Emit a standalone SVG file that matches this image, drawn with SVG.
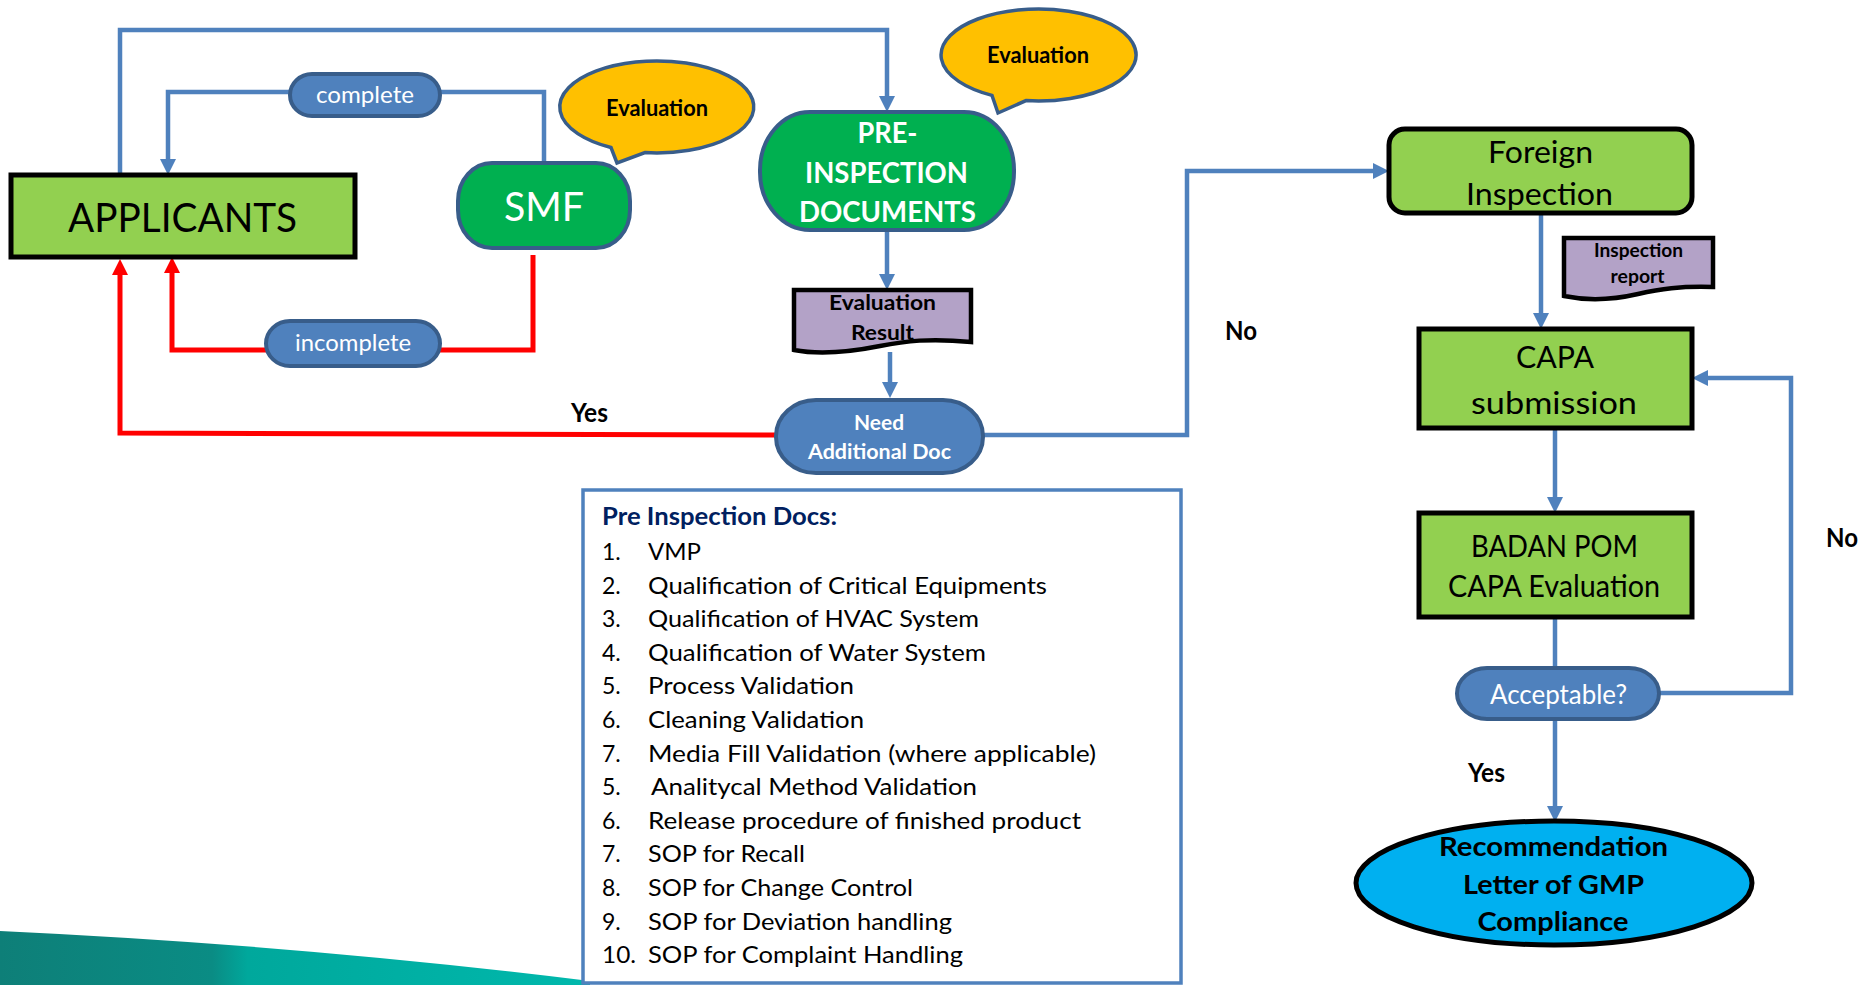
<svg xmlns="http://www.w3.org/2000/svg" width="1865" height="985" viewBox="0 0 1865 985">
<defs>
<style>
text{font-family:"Lato","Liberation Sans",sans-serif;}
.c{text-anchor:middle;}
.b{font-weight:bold;}
.w{fill:#FFFFFF;}
.k{fill:#000000;}
.blue{fill:none;stroke:#4F81BD;stroke-width:4.5;}
.red{fill:none;stroke:#FF0000;stroke-width:5;}
.pill{fill:#4F81BD;stroke:#385D8A;stroke-width:4;}
.green{fill:#00B050;stroke:#385D8A;stroke-width:4;}
.lgreen{fill:#92D050;stroke:#000000;stroke-width:5;}
.bubble{fill:#FFC000;stroke:#385D8A;stroke-width:3.5;}
.doc{fill:#B3A2C7;stroke:#000000;stroke-width:4.5;}
.li{font-size:23px;fill:#000000;}
</style>
<marker id="ab" markerUnits="userSpaceOnUse" markerWidth="16" markerHeight="16" refX="6" refY="8" orient="auto">
<path d="M0,0 L16,8 L0,16 Z" fill="#4F81BD"/>
</marker>
<marker id="ar" markerUnits="userSpaceOnUse" markerWidth="16" markerHeight="16" refX="6" refY="8" orient="auto">
<path d="M0,0 L16,8 L0,16 Z" fill="#FF0000"/>
</marker>
<linearGradient id="teal" x1="0" y1="0" x2="1" y2="0">
<stop offset="0" stop-color="#0E7F78"/>
<stop offset="0.36" stop-color="#0A8C84"/>
<stop offset="0.42" stop-color="#00A89C"/>
<stop offset="1" stop-color="#00B8AC"/>
</linearGradient>
</defs>
<rect x="0" y="0" width="1865" height="985" fill="#FFFFFF"/>
<path d="M0,931 Q300,945 590,981 V985 H0 Z" fill="url(#teal)"/>

<g id="connectors">
<path class="blue" d="M120,175 V30 H887 V102" marker-end="url(#ab)"/>
<path class="blue" d="M544,165 V92 H168 V165" marker-end="url(#ab)"/>
<path class="red" d="M533,255 V350 H172 V267" marker-end="url(#ar)"/>
<path class="red" d="M776,435 L120,433 V269" marker-end="url(#ar)"/>
<path class="blue" d="M887,232 V280" marker-end="url(#ab)"/>
<path class="blue" d="M890,352 V388" marker-end="url(#ab)"/>
<path class="blue" d="M983,435 H1187 V171 H1379" marker-end="url(#ab)"/>
<path class="blue" d="M1541,213 V319" marker-end="url(#ab)"/>
<path class="blue" d="M1555,428 V503" marker-end="url(#ab)"/>
<path class="blue" d="M1555,617 V668"/>
<path class="blue" d="M1659,693 H1791 V378 H1702" marker-end="url(#ab)"/>
<path class="blue" d="M1555,719 V812" marker-end="url(#ab)"/>
<text class="b k" x="571" y="422" font-size="26" textLength="37" lengthAdjust="spacingAndGlyphs">Yes</text>
<text class="b k" x="1225" y="340" font-size="26" textLength="32" lengthAdjust="spacingAndGlyphs">No</text>
<text class="b k" x="1826" y="547" font-size="26" textLength="32" lengthAdjust="spacingAndGlyphs">No</text>
<text class="b k" x="1468" y="782" font-size="26" textLength="37" lengthAdjust="spacingAndGlyphs">Yes</text>
</g>

<g id="complete">
<rect class="pill" x="290" y="74" width="150" height="42" rx="22" ry="21"/>
<text class="c w" x="365" y="103" font-size="24" textLength="98" lengthAdjust="spacingAndGlyphs">complete</text>
</g>

<g id="incomplete">
<rect class="pill" x="266" y="321" width="174" height="45" rx="24" ry="22.5"/>
<text class="c w" x="353" y="351" font-size="24" textLength="116" lengthAdjust="spacingAndGlyphs">incomplete</text>
</g>

<g id="applicants">
<rect class="lgreen" x="11" y="175" width="344" height="82"/>
<text class="c k" x="182.5" y="232" font-size="40" textLength="229" lengthAdjust="spacingAndGlyphs">APPLICANTS</text>
</g>

<g id="smf">
<rect class="green" x="458" y="163" width="172" height="85" rx="34" ry="38"/>
<text class="c w" x="544" y="221" font-size="40" textLength="80" lengthAdjust="spacingAndGlyphs">SMF</text>
</g>

<g id="evaluation-bubble-1">
<path class="bubble" d="M645,152.6 A97,46 0 1 0 611,147.5 L617,163 Z"/>
<text class="c b k" x="657" y="116" font-size="22" textLength="102" lengthAdjust="spacingAndGlyphs">Evaluation</text>
</g>

<g id="evaluation-bubble-2">
<path class="bubble" d="M1026,100.6 A97.5,46 0 1 0 992,95.4 L998,113 Z"/>
<text class="c b k" x="1038" y="63" font-size="22" textLength="102" lengthAdjust="spacingAndGlyphs">Evaluation</text>
</g>

<g id="pre-inspection">
<rect class="green" x="760" y="112" width="254" height="118" rx="50" ry="58"/>
<text class="c b w" x="887.5" y="143" font-size="28" textLength="60" lengthAdjust="spacingAndGlyphs">PRE-</text>
<text class="c b w" x="886.5" y="183" font-size="28" textLength="163" lengthAdjust="spacingAndGlyphs">INSPECTION</text>
<text class="c b w" x="887.5" y="222" font-size="28" textLength="177" lengthAdjust="spacingAndGlyphs">DOCUMENTS</text>
</g>

<g id="evaluation-result">
<path class="doc" d="M794,290 H971 V342 C930,338 905,341 880,346 C850,352 820,355 794,350 Z"/>
<text class="c b k" x="882.5" y="310" font-size="21" textLength="107" lengthAdjust="spacingAndGlyphs">Evaluation</text>
<text class="c b k" x="882.5" y="340" font-size="21" textLength="63" lengthAdjust="spacingAndGlyphs">Result</text>
</g>

<g id="need-additional-doc">
<rect class="pill" x="776" y="400" width="207" height="73" rx="40" ry="36"/>
<text class="c b w" x="879" y="430" font-size="21" textLength="50" lengthAdjust="spacingAndGlyphs">Need</text>
<text class="c b w" x="879.5" y="459" font-size="21" textLength="143" lengthAdjust="spacingAndGlyphs">Additional Doc</text>
</g>

<g id="pre-inspection-docs">
<rect x="583" y="490" width="598" height="493" fill="#FFFFFF" stroke="#4F81BD" stroke-width="3.5"/>
<text class="b" x="602" y="525" font-size="24" fill="#002060" textLength="235" lengthAdjust="spacingAndGlyphs">Pre Inspection Docs:</text>
<text class="li" x="602" y="560">1.</text><text class="li" x="648" y="560" textLength="53" lengthAdjust="spacingAndGlyphs">VMP</text>
<text class="li" x="602" y="593.6">2.</text><text class="li" x="648" y="593.6" textLength="399" lengthAdjust="spacingAndGlyphs">Qualification of Critical Equipments</text>
<text class="li" x="602" y="627.2">3.</text><text class="li" x="648" y="627.2" textLength="331" lengthAdjust="spacingAndGlyphs">Qualification of HVAC System</text>
<text class="li" x="602" y="660.8">4.</text><text class="li" x="648" y="660.8" textLength="338" lengthAdjust="spacingAndGlyphs">Qualification of Water System</text>
<text class="li" x="602" y="694.4">5.</text><text class="li" x="648" y="694.4" textLength="206" lengthAdjust="spacingAndGlyphs">Process Validation</text>
<text class="li" x="602" y="728">6.</text><text class="li" x="648" y="728" textLength="216" lengthAdjust="spacingAndGlyphs">Cleaning Validation</text>
<text class="li" x="602" y="761.6">7.</text><text class="li" x="648" y="761.6" textLength="448" lengthAdjust="spacingAndGlyphs">Media Fill Validation (where applicable)</text>
<text class="li" x="602" y="795.2">5.</text><text class="li" x="651" y="795.2" textLength="326" lengthAdjust="spacingAndGlyphs">Analitycal Method Validation</text>
<text class="li" x="602" y="828.8">6.</text><text class="li" x="648" y="828.8" textLength="433" lengthAdjust="spacingAndGlyphs">Release procedure of finished product</text>
<text class="li" x="602" y="862.4">7.</text><text class="li" x="648" y="862.4" textLength="157" lengthAdjust="spacingAndGlyphs">SOP for Recall</text>
<text class="li" x="602" y="896">8.</text><text class="li" x="648" y="896" textLength="265" lengthAdjust="spacingAndGlyphs">SOP for Change Control</text>
<text class="li" x="602" y="929.6">9.</text><text class="li" x="648" y="929.6" textLength="304" lengthAdjust="spacingAndGlyphs">SOP for Deviation handling</text>
<text class="li" x="602" y="963.2" textLength="34" lengthAdjust="spacingAndGlyphs">10.</text><text class="li" x="648" y="963.2" textLength="315" lengthAdjust="spacingAndGlyphs">SOP for Complaint Handling</text>
</g>

<g id="foreign-inspection">
<rect class="lgreen" x="1389" y="129" width="303" height="84" rx="16" ry="16"/>
<text class="c k" x="1540.5" y="163" font-size="30" textLength="105" lengthAdjust="spacingAndGlyphs">Foreign</text>
<text class="c k" x="1539.5" y="205" font-size="30" textLength="147" lengthAdjust="spacingAndGlyphs">Inspection</text>
</g>

<g id="inspection-report">
<path class="doc" d="M1564,238 H1713 V287 C1680,286 1660,289 1638,294 C1612,300 1588,301 1564,296 Z"/>
<text class="c b k" x="1638.5" y="257" font-size="19" textLength="89" lengthAdjust="spacingAndGlyphs">Inspection</text>
<text class="c b k" x="1637.6" y="282.7" font-size="19" textLength="54" lengthAdjust="spacingAndGlyphs">report</text>
</g>

<g id="capa-submission">
<rect class="lgreen" x="1419" y="329" width="273" height="99"/>
<text class="c k" x="1555" y="368" font-size="30" textLength="78" lengthAdjust="spacingAndGlyphs">CAPA</text>
<text class="c k" x="1554" y="414" font-size="30" textLength="166" lengthAdjust="spacingAndGlyphs">submission</text>
</g>

<g id="badan-pom">
<rect class="lgreen" x="1419" y="513" width="273" height="104"/>
<text class="c k" x="1554.5" y="557" font-size="30" textLength="167" lengthAdjust="spacingAndGlyphs">BADAN POM</text>
<text class="c k" x="1554" y="597" font-size="30" textLength="212" lengthAdjust="spacingAndGlyphs">CAPA Evaluation</text>
</g>

<g id="acceptable">
<rect class="pill" x="1457" y="668" width="202" height="51" rx="30" ry="25.5"/>
<text class="c w" x="1558.5" y="704" font-size="26" textLength="137" lengthAdjust="spacingAndGlyphs">Acceptable?</text>
</g>

<g id="recommendation">
<ellipse cx="1554" cy="883" rx="198" ry="62" fill="#00B0F0" stroke="#000000" stroke-width="5"/>
<text class="c b k" x="1553.5" y="856" font-size="27" textLength="229" lengthAdjust="spacingAndGlyphs">Recommendation</text>
<text class="c b k" x="1553.5" y="894" font-size="27" textLength="181" lengthAdjust="spacingAndGlyphs">Letter of GMP</text>
<text class="c b k" x="1553" y="931" font-size="27" textLength="151" lengthAdjust="spacingAndGlyphs">Compliance</text>
</g>
</svg>
